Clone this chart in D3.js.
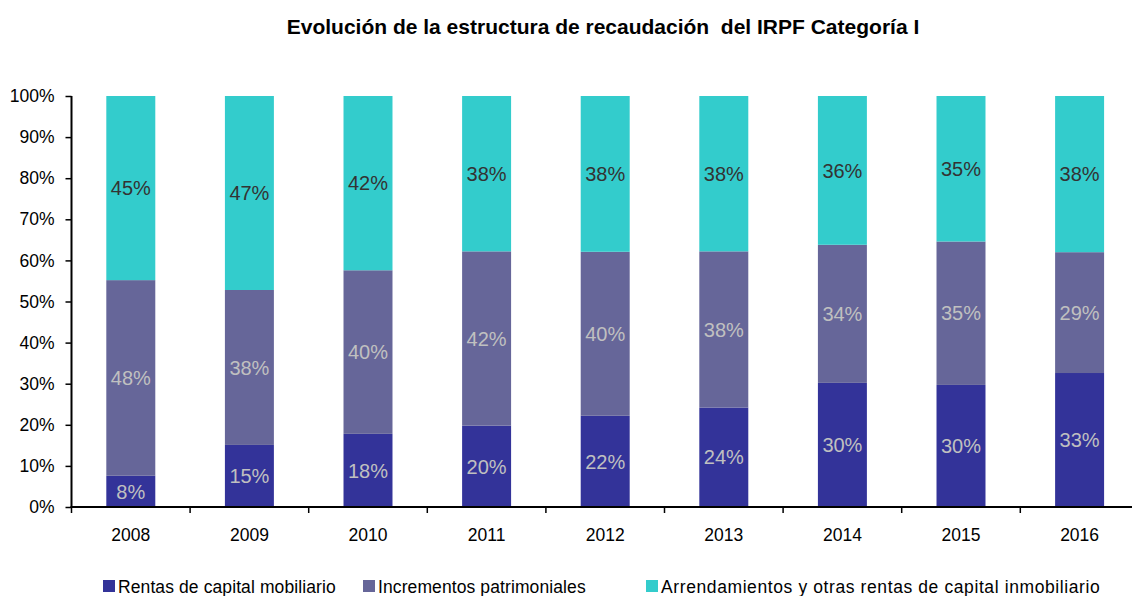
<!DOCTYPE html>
<html lang="es">
<head>
    <meta charset="UTF-8">
    <title>Evolución de la estructura de recaudación del IRPF Categoría I</title>
    <script src="https://d3js.org/d3.v7.min.js"></script>
    <style>
        body { margin: 0; background: #fff; }
        text { font-family: "Liberation Sans", Arial, sans-serif; }
    </style>
</head>
<body>
<script>
    // datos (en %)
    var years = ['2008', '2009', '2010', '2011', '2012', '2013', '2014', '2015', '2016'];
    var rentasMobiliario = [7.6, 15.1, 17.8, 19.8, 22.2, 24.2, 30.2, 29.7, 32.6];
    var incrementos = [47.6, 37.7, 39.8, 42.4, 39.9, 38.0, 33.6, 34.9, 29.4];
    var arrendamientos = [44.8, 47.2, 42.4, 37.8, 37.9, 37.8, 36.2, 35.4, 38.0];
    var seriesNames = ['Rentas de capital mobiliario', 'Incrementos patrimoniales',
        'Arrendamientos y otras rentas de capital inmobiliario'];
    var yTicks = [0, 10, 20, 30, 40, 50, 60, 70, 80, 90, 100];

    var width = 1132, height = 596;
    var colors = ['#333399', '#666699', '#33cccc'];
    var labelColors = ['#c0c0c0', '#c0c0c0', '#333333'];

    var svg = d3.select('body').append('svg')
        .attr('width', width)
        .attr('height', height);

    // tabla para d3.stack
    var keys = ['rm', 'inc', 'arr'];
    var table = years.map(function(y, i) {
        return {year: y, rm: rentasMobiliario[i], inc: incrementos[i], arr: arrendamientos[i]};
    });
    var stacked = d3.stack().keys(keys)(table);

    var left = 71.5, step = 118.6;
    var x = d3.scaleBand()
        .domain(years)
        .range([left, left + step * years.length])
        .paddingInner(0.587)
        .paddingOuter(0.587 / 2);
    var y = d3.scaleLinear().domain([0, 100]).range([507, 96]);

    // título
    svg.append('text')
        .attr('x', 603)
        .attr('y', 34)
        .attr('text-anchor', 'middle')
        .attr('font-size', '21px')
        .attr('font-weight', 'bold')
        .attr('fill', '#000')
        .style('white-space', 'pre')
        .text('Evolución de la estructura de recaudación  del IRPF Categoría I');

    // barras
    var layer = svg.selectAll('g.layer')
        .data(stacked)
        .enter().append('g')
        .attr('class', 'layer')
        .attr('fill', function(d, i) { return colors[i]; });

    layer.selectAll('rect')
        .data(function(d) { return d; })
        .enter().append('rect')
        .attr('x', function(d) { return x(d.data.year); })
        .attr('y', function(d) { return y(d[1]); })
        .attr('width', x.bandwidth())
        .attr('height', function(d) { return y(d[0]) - y(d[1]); });

    // etiquetas de datos
    stacked.forEach(function(s, si) {
        svg.append('g').selectAll('text')
            .data(s)
            .enter().append('text')
            .attr('x', function(d) { return x(d.data.year) + x.bandwidth() / 2; })
            .attr('y', function(d) { return (y(d[0]) + y(d[1])) / 2; })
            .attr('dy', '0.36em')
            .attr('text-anchor', 'middle')
            .attr('font-size', '20px')
            .attr('fill', labelColors[si])
            .text(function(d) { return Math.round(d[1] - d[0]) + '%'; });
    });

    // eje Y
    var yAxis = svg.append('g')
        .attr('transform', 'translate(' + left + ',0)')
        .call(d3.axisLeft(y).tickValues(yTicks).tickSize(6).tickPadding(11)
            .tickFormat(function(d) { return d + '%'; }));
    yAxis.select('.domain').attr('stroke', '#000').attr('stroke-width', 2)
        .attr('d', 'M0,' + y(100) + 'V' + y(0));
    yAxis.selectAll('.tick line').attr('stroke', '#000').attr('stroke-width', 1.5);
    yAxis.selectAll('.tick text')
        .attr('font-size', '17.5px')
        .attr('fill', '#000')
        .style('font-family', '"Liberation Sans", Arial, sans-serif');

    // eje X
    var xAxis = svg.append('g')
        .attr('transform', 'translate(0,' + y(0) + ')')
        .call(d3.axisBottom(x).tickSize(0).tickPadding(22));
    xAxis.select('.domain').attr('stroke', '#000').attr('stroke-width', 2)
        .attr('d', 'M' + (left - 1) + ',0H' + (left + step * years.length));
    xAxis.selectAll('.tick text')
        .attr('font-size', '17.5px')
        .attr('fill', '#000')
        .style('font-family', '"Liberation Sans", Arial, sans-serif');
    xAxis.selectAll('line.sep')
        .data(d3.range(years.length + 1))
        .enter().append('line')
        .attr('class', 'sep')
        .attr('x1', function(i) { return left + i * step; })
        .attr('x2', function(i) { return left + i * step; })
        .attr('y1', 0)
        .attr('y2', 6)
        .attr('stroke', '#000')
        .attr('stroke-width', 1.5);

    // leyenda
    var legendX = [103, 363, 646];
    var legendSpacing = [0.1, 0.1, 0.6];
    var legend = svg.append('g').selectAll('g')
        .data(seriesNames)
        .enter().append('g')
        .attr('transform', function(d, i) { return 'translate(' + legendX[i] + ',580)'; });
    legend.append('rect')
        .attr('width', 12)
        .attr('height', 12)
        .attr('fill', function(d, i) { return colors[i]; });
    legend.append('text')
        .attr('x', 15)
        .attr('y', 12.5)
        .attr('font-size', '17.5px')
        .attr('fill', '#000')
        .style('letter-spacing', function(d, i) { return legendSpacing[i] + 'px'; })
        .text(function(d) { return d; });
</script>
</body>
</html>
